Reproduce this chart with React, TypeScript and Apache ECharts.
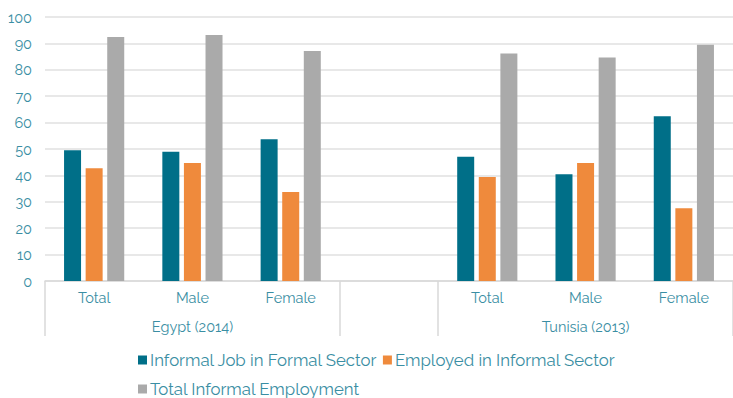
import React, { useEffect, useRef } from "react";
import * as echarts from "echarts";

const categories = ["Total", "Male", "Female", "", "Total", "Male", "Female"];
const groupLabels = ["", "Egypt (2014)", "", "", "", "Tunisia (2013)", ""];
const informalJobFormal = [49.5, 49.0, 53.7, null, 47.1, 40.4, 62.4];
const employedInformal = [42.7, 44.7, 33.7, null, 39.4, 44.7, 27.6];
const totalInformal = [92.4, 93.2, 87.1, null, 86.2, 84.7, 89.5];
const seriesNames = [
  "Informal Job in Formal Sector",
  "Employed in Informal Sector",
  "Total Informal Employment",
];

const TEXT = "#3a8ea3";
const FONT = "Raleway, 'Open Sans', sans-serif";

export default function App() {
  const ref = useRef<HTMLDivElement>(null);
  useEffect(() => {
    document.body.style.margin = "0";
    document.body.style.overflow = "hidden";
    const chart = echarts.init(ref.current!, null, { renderer: "svg" });
    chart.setOption({
      animation: false,
      textStyle: { fontFamily: FONT },
      grid: { left: 45, top: 17, bottom: 117, right: -5, containLabel: false },
      legend: {
        left: 138,
        top: 348,
        padding: 0,
        width: 520,
        itemWidth: 9,
        itemHeight: 9,
        itemGap: 5,
        icon: "rect",
        textStyle: {
          color: TEXT,
          fontSize: 16.8,
          lineHeight: 24,
          fontFamily: FONT,
          padding: [0, 0, 0, -2],
        },
        data: seriesNames,
      },
      xAxis: [
        {
          type: "category",
          data: categories,
          position: "bottom",
          axisLine: { show: true, lineStyle: { color: "#d9d9d9", width: 1.5 } },
          axisTick: {
            show: true,
            length: 55,
            lineStyle: { color: "#d9d9d9", width: 1.5 },
            interval: (i: number) => i === 0 || i === 3 || i === 4,
          },
          axisLabel: { color: TEXT, fontSize: 14.5, margin: 9, interval: 0, fontFamily: FONT },
        },
        {
          type: "category",
          data: groupLabels,
          position: "bottom",
          offset: 29,
          axisLine: { show: false },
          axisTick: { show: false },
          axisLabel: { color: TEXT, fontSize: 14.5, margin: 9, interval: 0, fontFamily: FONT },
        },
      ],
      yAxis: {
        type: "value",
        min: 0,
        max: 100,
        interval: 10,
        axisLine: { show: false },
        axisTick: { show: false },
        splitLine: { lineStyle: { color: "#e0e0e0", width: 1.5 } },
        axisLabel: { color: TEXT, fontSize: 14.5, margin: 13, fontFamily: FONT },
      },
      series: [
        {
          name: seriesNames[0],
          type: "bar",
          data: informalJobFormal,
          barWidth: 17,
          barGap: "27%",
          itemStyle: { color: "#006f88" },
        },
        {
          name: seriesNames[1],
          type: "bar",
          data: employedInformal,
          barWidth: 17,
          barGap: "27%",
          itemStyle: { color: "#ef8a3c" },
        },
        {
          name: seriesNames[2],
          type: "bar",
          data: totalInformal,
          barWidth: 17,
          barGap: "27%",
          itemStyle: { color: "#aaaaaa" },
        },
      ],
    });
    return () => chart.dispose();
  }, []);
  return <div ref={ref} style={{ width: 733, height: 398 }} />;
}
